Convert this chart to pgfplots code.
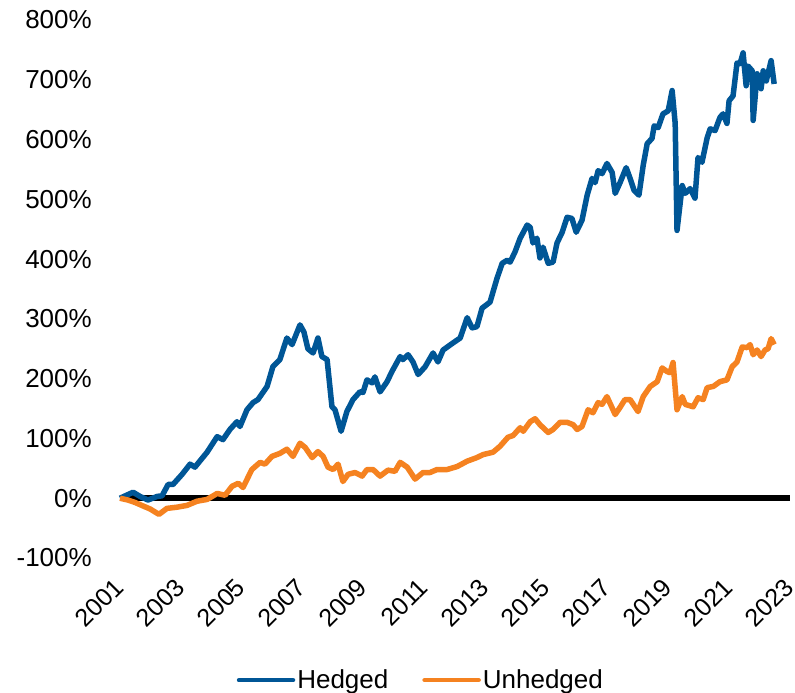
\documentclass[border=0pt]{standalone}
\usepackage{pgfplots}
\pgfplotsset{compat=1.18}
\usepackage{fontspec}
\setmainfont{Liberation Sans}
\definecolor{hedged}{RGB}{0,86,150}
\definecolor{unhedged}{RGB}{245,130,32}

\begin{document}
\begin{tikzpicture}
\begin{axis}[
    scale only axis,
    width=670pt, height=538pt,
    xmin=2001, xmax=2023,
    ymin=-100, ymax=800,
    axis line style={draw=none},
    major tick length=0pt,
    xtick={2001,2003,...,2023},
    ytick={-100,0,...,800},
    font=\fontsize{26}{30}\selectfont,
    /pgf/number format/assume math mode=true,
    /pgf/number format/1000 sep={},
    yticklabel={\pgfmathprintnumber{\tick}\%},
    yticklabel style={anchor=east, inner sep=0pt, xshift=-28pt},
    xticklabel style={font=\fontsize{25}{29}\selectfont, xshift=-1pt, yshift=-25pt,
        rotate=45, anchor=east, inner sep=0pt},
    clip=false,
    legend columns=2,
    legend style={draw=none, fill=none, at={(0.449,-0.227)}, anchor=center,
        font=\fontsize{26}{30}\selectfont,
        /tikz/every even column/.append style={column sep=32pt}},
    legend image code/.code={\draw[#1, line width=4.5pt, line cap=round] (0pt,0pt) -- (54pt,0pt);},
    every axis plot/.append style={line width=5.5pt, line join=round},
]
\addplot[black, line width=5.5pt, forget plot] coordinates {(2001,0) (2023,0)};

% Hedged
\addplot[hedged] coordinates {
(2001.00,0) (2001.43,10) (2001.66,3) (2001.92,-3) (2002.22,3) (2002.38,4)
(2002.58,23) (2002.74,23) (2003.04,40) (2003.30,57) (2003.46,52) (2003.86,77)
(2004.19,103) (2004.38,98) (2004.61,115) (2004.84,128) (2004.94,120) (2005.17,148)
(2005.37,160) (2005.53,165) (2005.83,187) (2006.02,220) (2006.25,232) (2006.48,268)
(2006.65,257) (2006.91,290) (2007.04,278) (2007.17,250) (2007.34,243) (2007.50,268)
(2007.63,237) (2007.80,232) (2007.96,153) (2008.06,148) (2008.26,112) (2008.45,145)
(2008.65,165) (2008.88,178) (2008.98,177) (2009.11,198) (2009.28,193) (2009.37,203)
(2009.54,178) (2009.77,195) (2009.93,212) (2010.20,237) (2010.29,232) (2010.46,240)
(2010.62,228) (2010.79,207) (2011.02,220) (2011.28,243) (2011.44,228) (2011.61,248)
(2011.94,260) (2012.17,268) (2012.40,302) (2012.56,285) (2012.72,287) (2012.89,318)
(2013.15,328) (2013.38,368) (2013.55,393) (2013.71,398) (2013.81,395) (2013.97,412)
(2014.14,435) (2014.37,457) (2014.47,453) (2014.56,427) (2014.69,435) (2014.79,402)
(2014.89,420) (2015.06,393) (2015.22,395) (2015.35,427) (2015.52,445) (2015.68,470)
(2015.84,468) (2015.98,445) (2016.17,465) (2016.34,507) (2016.50,535) (2016.60,528)
(2016.70,548) (2016.83,543) (2016.99,560) (2017.16,545) (2017.26,510) (2017.42,528)
(2017.62,553) (2017.75,535) (2017.88,515) (2018.04,507) (2018.18,557) (2018.31,593)
(2018.47,602) (2018.54,623) (2018.67,620) (2018.83,643) (2019.00,648) (2019.13,682)
(2019.23,627) (2019.29,448) (2019.46,523) (2019.56,510) (2019.72,518) (2019.88,502)
(2019.98,570) (2020.11,562) (2020.28,603) (2020.38,618) (2020.54,615) (2020.70,637)
(2020.80,643) (2020.93,627) (2021.00,665) (2021.13,673) (2021.26,728) (2021.36,727)
(2021.46,745) (2021.56,690) (2021.62,723) (2021.76,715) (2021.79,632) (2021.92,710)
(2022.05,685) (2022.12,715) (2022.22,698) (2022.38,732) (2022.48,693)
};
\addlegendentry{Hedged}

% Unhedged
\addplot[unhedged] coordinates {
(2001.00,0) (2001.26,-3) (2001.49,-7) (2001.76,-13) (2001.99,-18) (2002.28,-27)
(2002.54,-17) (2002.87,-15) (2003.20,-12) (2003.53,-5) (2003.86,-2) (2004.19,8)
(2004.45,5) (2004.68,20) (2004.88,25) (2005.04,18) (2005.33,48) (2005.60,60)
(2005.76,57) (2005.99,70) (2006.25,75) (2006.48,82) (2006.68,70) (2006.91,92)
(2007.08,85) (2007.31,68) (2007.50,78) (2007.67,70) (2007.83,52) (2008.00,48)
(2008.16,57) (2008.32,28) (2008.49,40) (2008.72,43) (2008.95,37) (2009.11,48)
(2009.31,48) (2009.54,37) (2009.80,47) (2010.03,45) (2010.20,60) (2010.43,52)
(2010.69,32) (2010.95,43) (2011.18,43) (2011.41,48) (2011.74,48) (2012.07,53)
(2012.40,62) (2012.72,68) (2012.92,73) (2013.25,77) (2013.48,87) (2013.74,102)
(2013.91,105) (2014.14,118) (2014.24,112) (2014.47,128) (2014.63,133) (2014.79,123)
(2015.06,110) (2015.22,115) (2015.45,127) (2015.68,127) (2015.88,123) (2016.01,115)
(2016.17,120) (2016.37,148) (2016.53,143) (2016.70,160) (2016.83,157) (2016.99,170)
(2017.26,140) (2017.42,152) (2017.58,165) (2017.75,165) (2018.01,145) (2018.18,170)
(2018.41,187) (2018.64,195) (2018.80,218) (2018.96,212) (2019.06,210) (2019.16,227)
(2019.29,148) (2019.46,170) (2019.56,157) (2019.82,153) (2019.98,168) (2020.15,165)
(2020.28,185) (2020.48,187) (2020.70,195) (2020.93,198) (2021.10,220) (2021.26,228)
(2021.43,253) (2021.59,252) (2021.69,257) (2021.79,240) (2021.92,248) (2022.05,237)
(2022.18,248) (2022.28,250) (2022.38,267) (2022.48,257)
};
\addlegendentry{Unhedged}

\coordinate (bbsw) at (rel axis cs:-0.1791,-0.2509);
\coordinate (bbne) at (rel axis cs:1.00746,1.0372);
\end{axis}
\pgfresetboundingbox
\path (bbsw) rectangle (bbne);
\end{tikzpicture}
\end{document}
